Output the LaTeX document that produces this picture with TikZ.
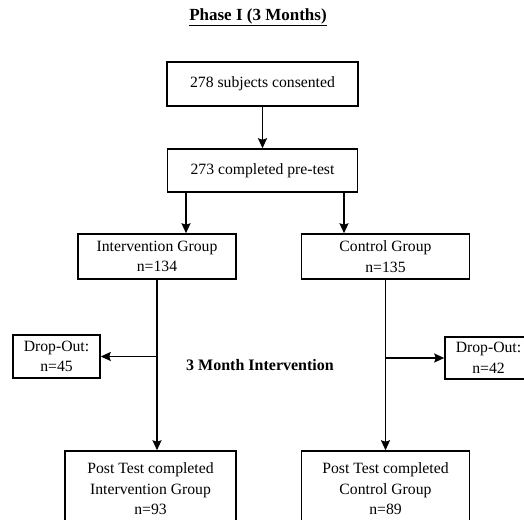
\documentclass[tikz,border=0pt]{standalone}
\usepackage{fontspec}
\setmainfont{Liberation Serif}
\usepackage{tikz}
\usetikzlibrary{arrows.meta}

\begin{document}
\begin{tikzpicture}[x=1pt, y=-1pt, line width=1.5pt,
        box/.style={draw, align=center, inner sep=0pt,
            font=\fontsize{15.7}{20.5}\selectfont},
        arr/.style={-{Stealth[length=10pt, width=9pt, inset=1.5pt]}}]
            \useasboundingbox (0, 0) rectangle (524, 519);
            \clip (0, 0) rectangle (524, 519);
            \coordinate (lft) at (186, 0);
            \coordinate (rgt) at (344, 0);
            \node[font=\fontsize{17}{20}\selectfont\bfseries](title) at (258, 17){\underline{Phase I (3 Months)}};
            \node[box, minimum width=191, minimum height=44](consent) at (262.5, 84){278 subjects consented};
            \node[box, minimum width=190, minimum height=43](pretest) at (262.5, 170.5){273 completed pre-test};
            \node[box, minimum width=158, minimum height=45](intgrp) at (157, 256.5){Intervention Group\\n=134};
            \node[box, minimum width=168, minimum height=45](ctrlgrp) at (385.5, 256.5){Control Group\\n=135};
            \node[box, minimum width=87, minimum height=43](dropint) at (56.5, 356.5){Drop-Out:\\n=45};
            \node[box, minimum width=87, minimum height=42](dropctl) at (488.5, 358){Drop-Out:\\n=42};
            \node[font=\fontsize{16}{20}\selectfont\bfseries](months) at (260, 365){3 Month Intervention};
            \node[box, minimum width=171, minimum height=76](postint) at (150.5, 489){Post Test completed\\Intervention Group\\n=93};
            \node[box, minimum width=168, minimum height=76](postctl) at (385.5, 489){Post Test completed\\Control Group\\n=89};
            \draw[arr](consent)--(pretest);
            \draw[arr](pretest.south -| lft)--(intgrp.north -| lft);
            \draw[arr](pretest.south -| rgt)--(ctrlgrp.north -| rgt);
            \draw[arr](intgrp)--(intgrp |- postint.north);
            \draw[arr](intgrp |- dropint.east)--(dropint.east);
            \draw[arr](ctrlgrp)--(postctl);
            \draw[arr](ctrlgrp |- dropctl.west)--(dropctl.west);
        \end{tikzpicture}
\end{document}
